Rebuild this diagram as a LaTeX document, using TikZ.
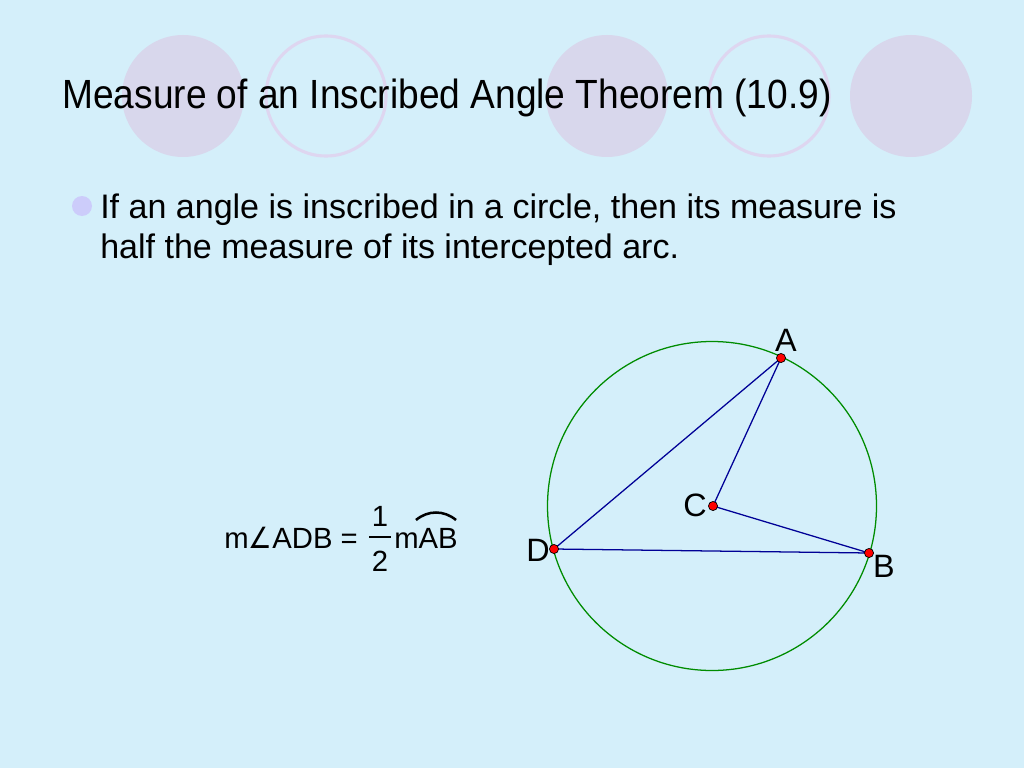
\documentclass[tikz,border=0pt]{standalone}
\usepackage{fontspec}
\setmainfont{Liberation Sans}
\newfontfamily\symfont{DejaVu Sans}
\definecolor{slidebg}{RGB}{212,239,250}
\definecolor{lavender}{RGB}{216,215,236}
\definecolor{lavline}{RGB}{222,214,240}
\definecolor{bulletc}{RGB}{204,204,250}
\definecolor{navy}{RGB}{0,0,150}
\definecolor{darkgreen}{RGB}{0,140,0}
\tikzstyle{deco} = [fill=lavender]
\tikzstyle{decoring} = [draw=lavline, line width=2.2pt]
\tikzstyle{ptdot} = [circle, fill=red, draw=black, line width=0.5pt, inner sep=0pt, minimum size=6.5pt]
\tikzstyle{ptlabel} = [font=\fontsize{23}{23}\selectfont, inner sep=0pt]
\tikzstyle{seg} = [draw=navy, line width=0.9pt]
\tikzstyle{bodytext} = [anchor=base west, inner sep=0pt, font=\fontsize{24.2}{24.2}\selectfont]
\tikzstyle{formula} = [font=\fontsize{20.8}{20.8}\selectfont, inner sep=0pt, anchor=base]
\begin{document}
\begin{tikzpicture}[x=0.025cm, y=-0.025cm]
\fill[slidebg] (0,0) rectangle (1024,768);
\fill[deco] (183,96) circle (61);
\draw[decoring] (326,96) circle (60);
\fill[deco] (607,96) circle (61);
\draw[decoring] (769,96) circle (60);
\fill[deco] (911,96) circle (61);
\node[anchor=base west, inner sep=0pt, font=\fontsize{29}{29}\selectfont] (title) at (62,109) {\scalebox{0.91}[1]{Measure of an Inscribed Angle Theorem (10.9)}};
\fill[bulletc] (82,206) circle (10);
\node[bodytext] (line1) at (100,218) {If an angle is inscribed in a circle, then its measure is};
\node[bodytext] (line2) at (100,258) {half the measure of its intercepted arc.};
\node[formula, anchor=base east] (lhs) at (358,548) {m{\symfont\scalebox{0.9}[1]{∠}}ADB =};
\node[formula] (num) at (380,526) {1};
\node[formula] (den) at (380,571) {2};
\draw[line width=1.6pt] (369,537) -- (391,537);
\node[formula, anchor=base west] (arcAB) at (394,548) {mAB};
\draw[line width=1.8pt] (416,520) .. controls (428,510) and (444,510) .. (456,520);
\draw[darkgreen, line width=0.9pt] (712,506) circle (164.5);
\coordinate (A) at (781,358);
\coordinate (B) at (869,553);
\coordinate (C) at (713,506);
\coordinate (D) at (554,549);
\draw[seg] (A) -- (D) -- (B) -- (C) -- (A);
\foreach \p in {A,B,C,D} \node[ptdot] at (\p) {};
\node[ptlabel] (labA) at (786,340) {A};
\node[ptlabel] (labB) at (884,566) {B};
\node[ptlabel] (labC) at (695,505) {C};
\node[ptlabel] (labD) at (538,550) {D};
\end{tikzpicture}
\end{document}
